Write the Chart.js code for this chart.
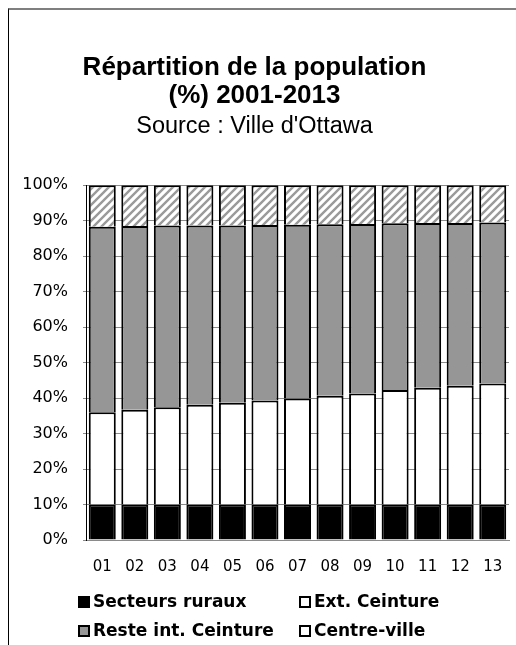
<!DOCTYPE html>
<html lang="fr">
<head>
<meta charset="utf-8">
<title>Répartition de la population (%) 2001-2013</title>
<script src="https://cdn.jsdelivr.net/npm/chart.js@4.4.1/dist/chart.umd.min.js"></script>
<style>
  html, body { margin: 0; padding: 0; background: #fff; }
  #wrap { position: relative; width: 516px; height: 645px; overflow: hidden; }
  #frame { position: absolute; left: 8px; top: 8px; right: 0; bottom: 0;
           border-top: 2px solid #7f7f7f; border-left: 1px solid #000; }
  #chart { position: absolute; left: 0; top: 0; }
  #legend { position: absolute; left: 78px; top: 592px;
            display: grid; grid-template-columns: 221px auto; row-gap: 10px;
            font: bold 17px "DejaVu Sans", Verdana, sans-serif; color: #000; }
  .item { display: flex; align-items: center; white-space: nowrap; line-height: 19px; }
  .box { width: 8px; height: 8px; border: 2px solid #000; margin-right: 3px; flex: none; }
</style>
</head>
<body>
<div id="wrap">
  <div id="frame"></div>
  <canvas id="chart" width="516" height="645"></canvas>
  <div id="legend"></div>
</div>
<script>
// Years 2001-2013, shown as two-digit labels
const years = ['01', '02', '03', '04', '05', '06', '07', '08', '09', '10', '11', '12', '13'];

// Share of the population (%) by sector
const secteursRuraux = [10.0, 10.0, 10.0, 10.0, 10.0, 10.0, 10.0, 10.0, 10.0, 10.0, 10.0, 10.0, 10.0];
const extCeinture    = [26.0, 26.7, 27.4, 28.1, 28.7, 29.3, 29.9, 30.7, 31.3, 32.3, 32.9, 33.5, 34.1];
const resteInt       = [52.3, 51.8, 51.3, 50.6, 50.0, 49.5, 49.0, 48.3, 47.8, 47.0, 46.5, 45.9, 45.4];
const centreVille    = [11.7, 11.5, 11.3, 11.3, 11.3, 11.2, 11.1, 11.0, 10.9, 10.7, 10.6, 10.6, 10.5];

const seriesNames = ['Secteurs ruraux', 'Ext. Ceinture', 'Reste int. Ceinture', 'Centre-ville'];

// Grey diagonal hatching on white for the city-centre segments
function makePattern() {
  const s = 8;
  const c = document.createElement('canvas');
  c.width = s; c.height = s;
  const g = c.getContext('2d');
  g.fillStyle = '#fff';
  g.fillRect(0, 0, s, s);
  g.strokeStyle = '#9a9a9a';
  g.lineWidth = 2.4;
  g.beginPath();
  g.moveTo(0, s); g.lineTo(s, 0);
  g.moveTo(-s / 2, s / 2); g.lineTo(s / 2, -s / 2);
  g.moveTo(s / 2, s * 1.5); g.lineTo(s * 1.5, s / 2);
  g.stroke();
  return g.createPattern(c, 'repeat');
}

const fills = ['#000000', '#ffffff', '#969696', makePattern()];
const legendFills = ['#000000', '#ffffff', '#969696', '#ffffff'];
const values = [secteursRuraux, extCeinture, resteInt, centreVille];

const datasets = seriesNames.map((name, i) => ({
  label: name,
  data: values[i],
  backgroundColor: fills[i],
  borderColor: '#000',
  borderWidth: 2,
  borderSkipped: 'start',
  categoryPercentage: 1,
  barPercentage: 0.83
}));

new Chart(document.getElementById('chart'), {
  type: 'bar',
  data: { labels: years, datasets },
  options: {
    responsive: false,
    animation: false,
    layout: { padding: { left: 0, right: 7, top: 0, bottom: 0 } },
    plugins: {
      legend: { display: false },
      tooltip: { enabled: false },
      title: {
        display: true,
        text: ['Répartition de la population', '(%) 2001-2013'],
        color: '#000',
        font: { family: '"Liberation Sans", Arial, sans-serif', size: 26, weight: 'bold', lineHeight: 1.06 },
        padding: { top: 54, bottom: 0 }
      },
      subtitle: {
        display: true,
        text: "Source : Ville d'Ottawa",
        color: '#000',
        font: { family: '"Liberation Sans", Arial, sans-serif', size: 23.5, weight: 'normal', lineHeight: 1.2 },
        padding: { top: 3, bottom: 45 }
      }
    },
    scales: {
      x: {
        stacked: true,
        grid: { display: false },
        border: { display: true, color: '#8a8a8a', width: 1 },
        ticks: { color: '#000', font: { family: '"DejaVu Sans", Verdana, sans-serif', size: 15 }, padding: 10 },
        afterFit: s => { s.height = 105; }
      },
      y: {
        stacked: true,
        min: 0,
        max: 100,
        grid: { color: '#8a8a8a', lineWidth: 1, tickLength: 3 },
        border: { display: true, color: '#000', width: 1 },
        ticks: {
          stepSize: 10,
          color: '#000',
          font: { family: '"DejaVu Sans", Verdana, sans-serif', size: 16 },
          padding: 15,
          callback: v => v + '%'
        },
        afterFit: s => { s.width = 86; }
      }
    }
  }
});

// Two-column legend below the plot
const legend = document.getElementById('legend');
[0, 1, 2, 3].forEach(i => {
  const item = document.createElement('div');
  item.className = 'item';
  const box = document.createElement('span');
  box.className = 'box';
  box.style.background = legendFills[i];
  const txt = document.createElement('span');
  txt.textContent = seriesNames[i];
  item.appendChild(box);
  item.appendChild(txt);
  legend.appendChild(item);
});
</script>
</body>
</html>
